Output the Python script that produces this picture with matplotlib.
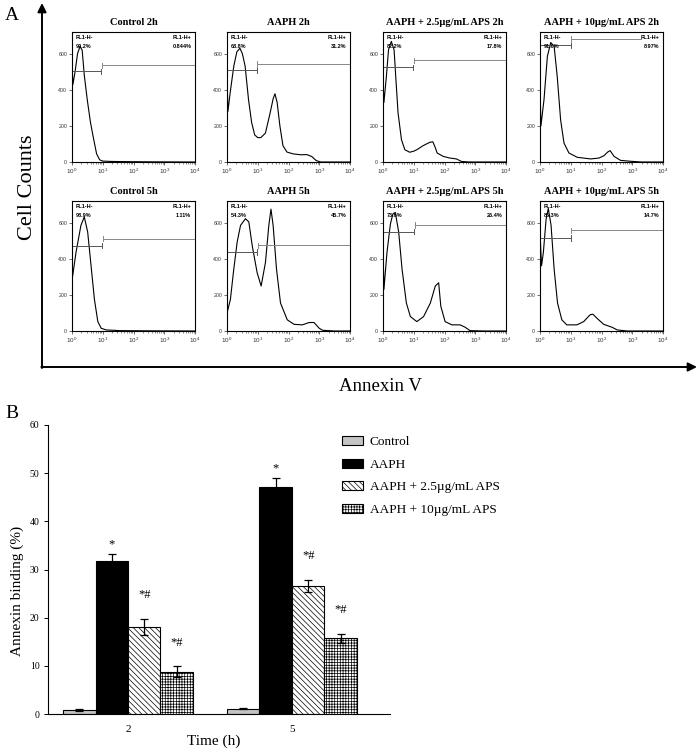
import numpy as np
import matplotlib
matplotlib.use("Agg")
import matplotlib.pyplot as plt
from matplotlib.ticker import LogLocator, NullFormatter

plt.rcParams['font.family'] = ['Liberation Serif', 'DejaVu Serif']
plt.rcParams['hatch.linewidth'] = 0.5
plt.rcParams['mathtext.default'] = 'regular'

# ---- panel A: flow cytometry histograms (x = log10 FL1-H, y = counts) ----
titles = ["Control 2h", "AAPH 2h", "AAPH + 2.5\u00b5g/mL APS 2h", "AAPH + 10\u00b5g/mL APS 2h",
          "Control 5h", "AAPH 5h", "AAPH + 2.5\u00b5g/mL APS 5h", "AAPH + 10\u00b5g/mL APS 5h"]
neg_pct = ["99.2%", "68.8%", "82.2%", "91.0%", "98.9%", "54.3%", "73.6%", "85.3%"]
pos_pct = ["0.844%", "31.2%", "17.8%", "8.97%", "1.11%", "45.7%", "26.4%", "14.7%"]
gate_split = [0.95, 0.97, 0.99, 1.0, 0.99, 0.98, 1.02, 1.0]
gate_neg_y = [502, 507, 524, 646, 472, 438, 550, 515]
gate_pos_y = [535, 543, 563, 682, 511, 474, 586, 558]
gate_pos_end = [4.0, 4.0, 4.0, 3.3, 4.0, 4.0, 4.0, 4.0]

ctrl2_x = [0, 0, 0.03, 0.1, 0.18, 0.26, 0.33, 0.4, 0.5, 0.6, 0.7, 0.8, 0.9, 1.0, 1.3, 1.8, 2.5, 4.0]
ctrl2_y = [0, 540, 430, 500, 600, 640, 620, 480, 340, 220, 130, 45, 12, 5, 3, 2, 1, 0]
aaph2_x = [0, 0, 0.03, 0.1, 0.22, 0.32, 0.42, 0.5, 0.59, 0.7, 0.8, 0.9, 1.0, 1.1, 1.25, 1.4, 1.5,
           1.56, 1.63, 1.72, 1.82, 1.95, 2.15, 2.4, 2.6, 2.76, 2.9, 3.05, 4.0]
aaph2_y = [0, 480, 280, 380, 530, 610, 630, 600, 530, 345, 220, 150, 135, 135, 160, 270, 350,
           378, 330, 200, 90, 55, 45, 40, 41, 30, 8, 0, 0]
aps25_2_x = [0, 0, 0.03, 0.11, 0.18, 0.27, 0.36, 0.43, 0.49, 0.6, 0.71, 0.87, 1.0, 1.1, 1.3, 1.52,
             1.62, 1.7, 1.76, 1.96, 2.17, 2.39, 2.55, 2.8, 4.0]
aps25_2_y = [0, 460, 330, 474, 622, 668, 622, 430, 271, 124, 68, 54, 60, 68, 90, 109,
             112, 80, 50, 31, 22, 17, 3, 0, 0]
aps10_2_x = [0, 0, 0.03, 0.13, 0.24, 0.35, 0.46, 0.56, 0.67, 0.78, 0.94, 1.21, 1.65, 1.92, 2.08,
             2.2, 2.28, 2.41, 2.62, 2.95, 3.3, 4.0]
aps10_2_y = [0, 420, 200, 345, 585, 662, 640, 474, 234, 105, 50, 26, 17, 22, 35,
             55, 63, 31, 9, 4, 0, 0]
ctrl5_x = [0, 0, 0.13, 0.29, 0.4, 0.51, 0.62, 0.73, 0.84, 0.95, 1.11, 1.55, 2.5, 4.0]
ctrl5_y = [0, 280, 435, 585, 632, 548, 361, 174, 52, 15, 6, 2, 1, 0]
aaph5_x = [0, 0, 0.11, 0.22, 0.33, 0.44, 0.6, 0.71, 0.82, 0.98, 1.11, 1.25, 1.36, 1.43, 1.5, 1.61,
           1.74, 1.96, 2.18, 2.45, 2.67, 2.83, 3.0, 3.11, 3.5, 4.0]
aaph5_y = [0, 99, 174, 342, 492, 585, 622, 604, 473, 323, 249, 379, 585, 675, 585, 342,
           155, 62, 37, 34, 47, 47, 15, 4, 0, 0]
aps25_5_x = [0, 0, 0.03, 0.13, 0.24, 0.32, 0.4, 0.51, 0.62, 0.76, 0.89, 1.1, 1.32, 1.54, 1.7,
             1.81, 1.88, 2.02, 2.24, 2.51, 2.67, 2.83, 3.3, 4.0]
aps25_5_y = [0, 470, 230, 436, 592, 648, 657, 548, 342, 155, 80, 52, 80, 155, 249,
             267, 137, 52, 34, 34, 21, 2, 0, 0]
aps10_5_x = [0, 0, 0.05, 0.11, 0.2, 0.27, 0.36, 0.46, 0.57, 0.71, 0.87, 1.2, 1.42, 1.63, 1.72,
             1.85, 2.07, 2.34, 2.51, 2.83, 4.0]
aps10_5_y = [0, 548, 361, 436, 622, 679, 585, 342, 155, 62, 34, 34, 52, 90, 93,
             71, 37, 21, 6, 0, 0]

hist_x = [ctrl2_x, aaph2_x, aps25_2_x, aps10_2_x, ctrl5_x, aaph5_x, aps25_5_x, aps10_5_x]
hist_y = [ctrl2_y, aaph2_y, aps25_2_y, aps10_2_y, ctrl5_y, aaph5_y, aps25_5_y, aps10_5_y]

# ---- panel B: annexin binding bars ----
times = ["2", "5"]
groups = ["Control", "AAPH", "AAPH + 2.5\u00b5g/mL APS", "AAPH + 10\u00b5g/mL APS"]
means = [[0.8, 1.1], [31.8, 47.2], [18.0, 26.6], [8.8, 15.7]]
errs = [[0.15, 0.15], [1.5, 1.8], [1.7, 1.2], [1.1, 1.0]]
marks = [["", ""], ["*", "*"], ["*#", "*#"], ["*#", "*#"]]

W, H = 699, 754
fig = plt.figure(figsize=(W / 100, H / 100), dpi=100)

# overlay for the big arrows of panel A
ov = fig.add_axes([0, 0, 1, 1], zorder=0)
ov.set_xlim(0, W)
ov.set_ylim(H, 0)
ov.axis('off')
ov.annotate('', xy=(42, 3), xytext=(42, 368),
            arrowprops=dict(arrowstyle='-|>', lw=1.4, color='k', mutation_scale=13, shrinkA=0, shrinkB=0))
ov.annotate('', xy=(697, 367), xytext=(41.3, 367),
            arrowprops=dict(arrowstyle='-|>', lw=1.4, color='k', mutation_scale=13, shrinkA=0, shrinkB=0))

fig.text(12 / W, 1 - 15 / H, "A", fontsize=14, ha='center', va='center')
fig.text(27 / W, 1 - 187 / H, "Cell Counts", fontsize=16, rotation=90, ha='center', va='center')
fig.text(380 / W, 1 - 386 / H, "Annexin V", fontsize=13.5, ha='center', va='center')
fig.text(12 / W, 1 - 413 / H, "B", fontsize=14, ha='center', va='center')

col_left = [72, 227, 383, 540]
row_bottom = [162, 331]
for i in range(8):
    r, c = divmod(i, 4)
    ax = fig.add_axes([col_left[c] / W, 1 - row_bottom[r] / H, 123 / W, 130 / H], zorder=2)
    ax.plot(10 ** np.array(hist_x[i]), hist_y[i], color='k', lw=0.8)
    s = 10 ** gate_split[i]
    ax.plot([1, s], [gate_neg_y[i]] * 2, color='#555555', lw=0.7)
    ax.plot([s, s], [gate_neg_y[i] - 15, gate_neg_y[i] + 15], color='#555555', lw=0.7)
    ax.plot([s * 1.04, 10 ** gate_pos_end[i]], [gate_pos_y[i]] * 2, color='#888888', lw=0.7)
    ax.plot([s * 1.04] * 2, [gate_pos_y[i] - 15, gate_pos_y[i] + 15], color='#888888', lw=0.7)
    ax.set_xscale('log')
    ax.set_xlim(1, 1e4)
    ax.set_ylim(0, 720)
    ax.set_yticks([0, 200, 400, 600])
    ax.xaxis.set_major_locator(LogLocator(base=10, numticks=6))
    ax.xaxis.set_minor_locator(LogLocator(base=10, subs=np.arange(2, 10), numticks=10))
    ax.xaxis.set_minor_formatter(NullFormatter())
    ax.tick_params(axis='both', which='major', labelsize=4.5, length=2, width=0.5,
                   colors='#333333', pad=1.5)
    ax.tick_params(axis='x', which='minor', length=1.2, width=0.4, colors='#333333')
    ax.tick_params(axis='y', labelsize=3.8)
    for lab in ax.get_xticklabels() + ax.get_yticklabels():
        lab.set_family(['Liberation Sans', 'DejaVu Sans'])
    for sp in ax.spines.values():
        sp.set_linewidth(0.8)
    ax.set_title(titles[i], fontsize=7.5, fontweight='bold', pad=5)
    tkw = dict(fontsize=4, fontweight='bold', family=['Liberation Sans', 'DejaVu Sans'],
               transform=ax.transAxes)
    ax.text(0.03, 0.955, "FL1-H-", ha='left', va='center', **tkw)
    ax.text(0.03, 0.885, neg_pct[i], ha='left', va='center', **tkw)
    ax.text(0.97, 0.955, "FL1-H+", ha='right', va='center', **tkw)
    ax.text(0.97, 0.885, pos_pct[i], ha='right', va='center', **tkw)

# ---- panel B ----
axb = fig.add_axes([48 / W, 1 - 714 / H, 342 / W, 289 / H], zorder=2)
x = np.arange(len(times))
bw = 0.198
styles = [dict(color='#c4c4c4'), dict(color='black'),
          dict(color='white', hatch='\\' * 6), dict(color='white', hatch='+' * 6)]
for k in range(4):
    pos = x + (k - 1.5) * bw
    axb.bar(pos, means[k], width=bw, edgecolor='black', linewidth=0.8, label=groups[k], **styles[k])
    axb.errorbar(pos, means[k], yerr=errs[k], fmt='none', ecolor='black', elinewidth=0.9,
                 capsize=3, capthick=0.9)
    for j in range(len(times)):
        if marks[k][j]:
            off = 1.3 if marks[k][j] == "*" else 4.3
            axb.text(pos[j], means[k][j] + errs[k][j] + off, marks[k][j], ha='center',
                     va='baseline', fontsize=9)
axb.set_xlim(-0.488, 1.598)
axb.set_ylim(0, 60)
axb.set_yticks(range(0, 61, 10))
axb.set_xticks(x)
axb.set_xticklabels(times)
axb.spines['top'].set_visible(False)
axb.spines['right'].set_visible(False)
for sp in ('left', 'bottom'):
    axb.spines[sp].set_linewidth(0.8)
axb.tick_params(axis='y', labelsize=7, length=3, width=0.7, pad=3)
axb.tick_params(axis='x', labelsize=8, length=0, pad=8)
fig.text(17 / W, 1 - 591 / H, "Annexin binding (%)", fontsize=11, rotation=90, ha='center', va='center')
fig.text(214 / W, 1 - 741 / H, "Time (h)", fontsize=11, ha='center', va='center')

fig.legend(loc='upper left', bbox_to_anchor=(342 / W, 1 - 436 / H), frameon=False, fontsize=9.5,
           handlelength=1.6, handleheight=0.7, labelspacing=0.78, handletextpad=0.5,
           borderpad=0, borderaxespad=0)

fig.savefig("out.png", dpi=100)
